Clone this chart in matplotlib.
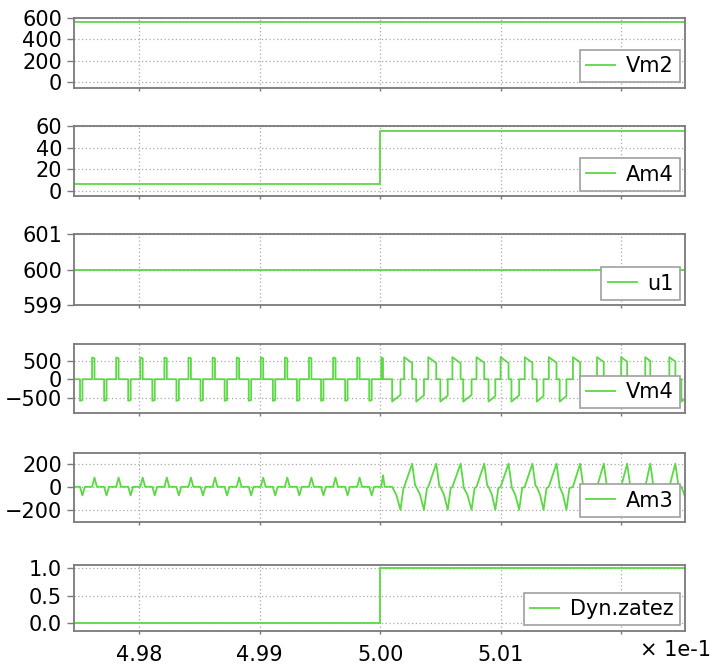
import matplotlib
matplotlib.use("Agg")
import matplotlib.pyplot as plt
from matplotlib.ticker import FormatStrFormatter

# time axis is shown in units of 1e-1 s
x_min, x_max = 4.9746, 5.0253
x_ticks = [4.98, 4.99, 5.00, 5.01, 5.02]
x_ticklabels = ["4.98", "4.99", "5.00", "5.01", ""]

# step signals (time, value)
vm2_t = [x_min, 5.0000, x_max]
vm2_v = [562, 558, 558]
am4_t = [x_min, 5.0000, x_max]
am4_v = [6.2, 55.6, 55.6]
u1_t = [x_min, x_max]
u1_v = [600, 600]
dyn_t = [x_min, 5.0000, x_max]
dyn_v = [0.0, 1.0, 1.0]

# Vm4 pulses before the load step
neg_on_pre = [4.9751, 4.9771, 4.9791, 4.9811, 4.9831, 4.9851, 4.9871,
              4.9891, 4.9911, 4.9931, 4.9951, 4.9971, 4.9991]
pos_on_pre = [4.9761, 4.9781, 4.9801, 4.9821, 4.9841, 4.9861, 4.9881,
              4.9901, 4.9921, 4.9941, 4.9961, 4.9981, 5.0001]
pos_w_pre = [0.0002] * 12 + [0.00014]
neg_w_pre = [0.0002] * 13
vm4_pre_level = [590, 570]          # start / end of a short pulse
am3_pre_spike = [80, -75]           # pos / neg spike
am3_first_spike = 100               # spike at the step

# Vm4 pulses after the load step
neg_on_post = [5.0010, 5.0030, 5.0050, 5.0069, 5.0090, 5.0109, 5.0130,
               5.0149, 5.0169, 5.0189, 5.0209, 5.0229, 5.0250]
neg_w_post = [0.00069, 0.00064, 0.00061, 0.00069, 0.00056, 0.00064, 0.00056,
              0.00056, 0.00055, 0.00052, 0.0005, 0.0005, 0.0005]
neg_end_post = [-430, -440, -450, -430, -460, -440, -460,
                -460, -460, -470, -480, -480, -480]
pos_on_post = [5.0020, 5.0040, 5.0060, 5.0080, 5.0100, 5.0120,
               5.0140, 5.0160, 5.0180, 5.0200, 5.0220, 5.0240]
pos_w_post = [0.00066, 0.00066, 0.00068, 0.00064, 0.00066, 0.00064,
              0.00064, 0.0006, 0.00056, 0.0005, 0.00042, 0.0005]
pos_end_post = [440, 440, 435, 450, 440, 450, 450, 460, 470, 480, 500, 480]
vm4_post_peak = 600
am3_post_peak = 200

green = "#5cd846"
grid_c = "#a8a8a8"
spine_c = "#7a7a7a"

plt.rcParams["font.family"] = ["DejaVu Sans"]
plt.rcParams["font.size"] = 15


def polyline(segments):
    segments.sort(key=lambda s: s[0][0])
    ts, vs = [x_min], [0]
    for pts in segments:
        for t, v in pts:
            ts.append(t)
            vs.append(v)
    ts.append(x_max)
    vs.append(0)
    return ts, vs


# Vm4 waveform
vm4_seg = []
for t, w in zip(neg_on_pre, neg_w_pre):
    vm4_seg.append([(t, 0), (t, -vm4_pre_level[0]), (t + w, -vm4_pre_level[1]), (t + w, 0)])
for t, w in zip(pos_on_pre, pos_w_pre):
    vm4_seg.append([(t, 0), (t, vm4_pre_level[0]), (t + w, vm4_pre_level[1]), (t + w, 0)])
for t, w, e in zip(neg_on_post, neg_w_post, neg_end_post):
    vm4_seg.append([(t, 0), (t, -vm4_post_peak - 10), (t + w, e), (t + w, 0)])
for t, w, e in zip(pos_on_post, pos_w_post, pos_end_post):
    vm4_seg.append([(t, 0), (t, vm4_post_peak), (t + w, e), (t + w, 0)])
vm4_t, vm4_v = polyline(vm4_seg)

# Am3 waveform
am3_seg = []
for t, w in zip(neg_on_pre, neg_w_pre):
    am3_seg.append([(t, 0), (t + w, am3_pre_spike[1]), (t + 2 * w, 0)])
for t, w in zip(pos_on_pre[:-1], pos_w_pre[:-1]):
    am3_seg.append([(t, 0), (t + w, am3_pre_spike[0]), (t + 2 * w, 0)])
t0, w0 = pos_on_pre[-1], pos_w_pre[-1]
am3_seg.append([(t0, 0), (t0 + w0, am3_first_spike), (t0 + 2 * w0, 0)])
for t, w in zip(neg_on_post, neg_w_post):
    am3_seg.append([(t, 0), (t + 0.5 * w, -70), (t + w, -am3_post_peak), (t + w + 0.00025, -12)])
for t, w in zip(pos_on_post, pos_w_post):
    am3_seg.append([(t, 0), (t + w, am3_post_peak), (t + w + 0.00025, 10)])
am3_t, am3_v = polyline(am3_seg)

panels = [
    (vm2_t, vm2_v, "Vm2", (-50, 600), [0, 200, 400, 600], "steps-post", None),
    (am4_t, am4_v, "Am4", (-5, 60), [0, 20, 40, 60], "steps-post", None),
    (u1_t, u1_v, "u1", (599, 601), [599, 600, 601], "default", None),
    (vm4_t, vm4_v, "Vm4", (-930, 960), [-500, 0, 500], "default", None),
    (am3_t, am3_v, "Am3", (-305, 290), [-200, 0, 200], "default", None),
    (dyn_t, dyn_v, "Dyn.zatez", (-0.134, 1.054), [0.0, 0.5, 1.0], "steps-post", "%.1f"),
]

# panel boxes in pixels from the top (top, bottom)
tops = [17.7, 126, 234.3, 344, 453.3, 565]
bottoms = [87.7, 196, 305, 413.3, 522, 630.7]
W, H = 713, 669
left_px, right_px = 74, 685

fig = plt.figure(figsize=(W / 100, H / 100), dpi=100)
for i, (t, v, name, ylim, yticks, ds, fmt) in enumerate(panels):
    ax = fig.add_axes([left_px / W, 1 - bottoms[i] / H,
                       (right_px - left_px) / W, (bottoms[i] - tops[i]) / H])
    ax.plot(t, v, color=green, lw=1.3, drawstyle=ds, label=name)
    ax.set_xlim(x_min, x_max)
    ax.set_ylim(*ylim)
    ax.set_yticks(yticks)
    if fmt:
        ax.yaxis.set_major_formatter(FormatStrFormatter(fmt))
    ax.set_xticks(x_ticks)
    if i == len(panels) - 1:
        ax.set_xticklabels(x_ticklabels)
    else:
        ax.set_xticklabels([])
    ax.grid(True, color=grid_c, linestyle=(0, (1, 2)), lw=0.9)
    for s in ax.spines.values():
        s.set_color(spine_c)
        s.set_linewidth(1.3)
    ax.tick_params(axis="y", length=5, width=1, color=spine_c, pad=3.5, labelsize=15)
    ax.tick_params(axis="x", length=2, width=1, color=spine_c, pad=8, labelsize=15)
    leg = ax.legend(loc="lower right", handlelength=1.4, handletextpad=0.5,
                    borderpad=0.3, borderaxespad=0.25, fancybox=False,
                    framealpha=1, edgecolor="#a0a0a0", fontsize=15)
    leg.get_frame().set_linewidth(1.2)

fig.text(711 / W, 1 - 650 / H, "\u00d7 1e-1", ha="right", va="center", fontsize=15)

fig.savefig("out.png", dpi=100)
